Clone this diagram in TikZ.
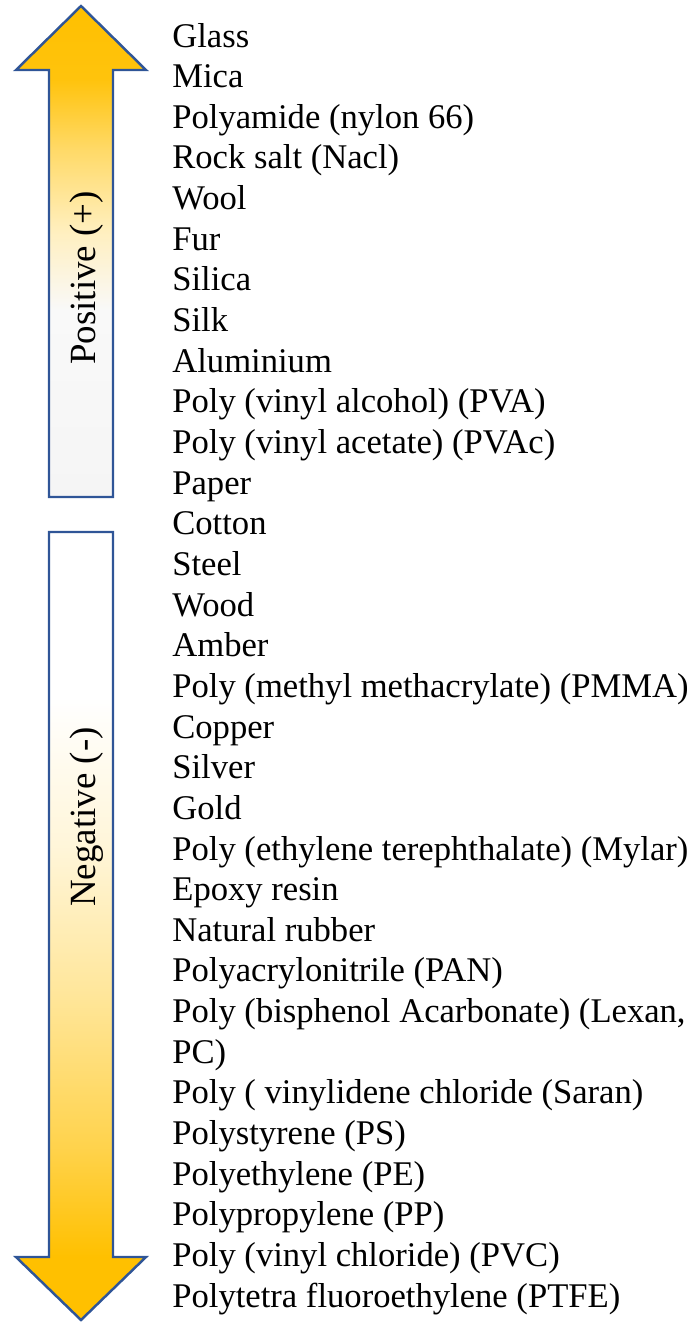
\documentclass[tikz,border=0pt]{standalone}
\usepackage{fontspec}
\setmainfont{Liberation Serif}
\usepackage{tikz}

\definecolor{arrowEdge}{HTML}{2F5597}
\definecolor{arrowGold}{HTML}{FFC000}
\definecolor{arrowPale}{HTML}{F5F5F5}

% the path box is mapped onto 25bp (bottom) .. 75bp (top)
\pgfdeclareverticalshading{positiveFill}{100bp}{
    color(0bp)=(arrowPale); color(25bp)=(arrowPale); color(44bp)=(arrowPale!60!white);
    color(52bp)=(arrowGold!25!white); color(60.5bp)=(arrowGold!60!white);
    color(67.5bp)=(arrowGold!95!white); color(75bp)=(arrowGold); color(100bp)=(arrowGold)}
\pgfdeclareverticalshading{negativeFill}{100bp}{
    color(0bp)=(arrowGold); color(29bp)=(arrowGold); color(36bp)=(arrowGold!70!white);
    color(45.5bp)=(arrowGold!40!white); color(55bp)=(arrowGold!15!white);
    color(64.5bp)=(white); color(100bp)=(white)}

\begin{document}
\begin{tikzpicture}[x=0.02cm, y=-0.02cm,
    material/.style={anchor=base west, inner sep=0pt, font=\fontsize{19.7pt}{23pt}\selectfont},
    sideLabel/.style={rotate=90, anchor=center, inner sep=0pt, font=\fontsize{21pt}{24pt}\selectfont}]
\useasboundingbox (0,0) rectangle (689,1322);

% arrow pointing up (positive side)
\draw[arrowEdge, line width=1.4pt, shading=positiveFill]
    (81,6) -- (146,70) -- (113,70) -- (113,497) -- (49,497) -- (49,70) -- (16,70) -- cycle;
\node[sideLabel] (posLabel) at (87,278) {Positive (+)};

% arrow pointing down (negative side)
\draw[arrowEdge, line width=1.4pt, shading=negativeFill]
    (49,532) -- (113,532) -- (113,1257) -- (146,1257) -- (81,1320) -- (16,1257) -- (49,1257) -- cycle;
\node[sideLabel] (negLabel) at (87,817) {Negative (-)};

% triboelectric series
\node[material] (glass) at (172,47) {Glass};
\node[material] (mica) at (172,87.65) {Mica};
\node[material] (nylon) at (172,128.3) {Polyamide (nylon 66)};
\node[material] (rockSalt) at (172,168.95) {Rock salt (Nacl)};
\node[material] (wool) at (172,209.6) {Wool};
\node[material] (fur) at (172,250.25) {Fur};
\node[material] (silica) at (172,290.9) {Silica};
\node[material] (silk) at (172,331.55) {Silk};
\node[material] (aluminium) at (172,372.2) {Aluminium};
\node[material] (pva) at (172,412.85) {Poly (vinyl alcohol) (PVA)};
\node[material] (pvac) at (172,453.5) {Poly (vinyl acetate) (PVAc)};
\node[material] (paper) at (172,494.15) {Paper};
\node[material] (cotton) at (172,534.8) {Cotton};
\node[material] (steel) at (172,575.45) {Steel};
\node[material] (wood) at (172,616.1) {Wood};
\node[material] (amber) at (172,656.75) {Amber};
\node[material] (pmma) at (172,697.4) {Poly (methyl methacrylate) (PMMA)};
\node[material] (copper) at (172,738.05) {Copper};
\node[material] (silver) at (172,778.7) {Silver};
\node[material] (gold) at (172,819.35) {Gold};
\node[material] (mylar) at (172,860) {Poly (ethylene terephthalate) (Mylar)};
\node[material] (epoxy) at (172,900.65) {Epoxy resin};
\node[material] (rubber) at (172,941.3) {Natural rubber};
\node[material] (pan) at (172,981.95) {Polyacrylonitrile (PAN)};
\node[material] (lexan) at (172,1022.6) {Poly (bisphenol Acarbonate) (Lexan,};
\node[material] (lexanPC) at (172,1063.25) {PC)};
\node[material] (saran) at (172,1103.9) {Poly ( vinylidene chloride (Saran)};
\node[material] (ps) at (172,1144.55) {Polystyrene (PS)};
\node[material] (pe) at (172,1185.2) {Polyethylene (PE)};
\node[material] (pp) at (172,1225.85) {Polypropylene (PP)};
\node[material] (pvc) at (172,1266.5) {Poly (vinyl chloride) (PVC)};
\node[material] (ptfe) at (172,1307.15) {Polytetra fluoroethylene (PTFE)};

\end{tikzpicture}
\end{document}
